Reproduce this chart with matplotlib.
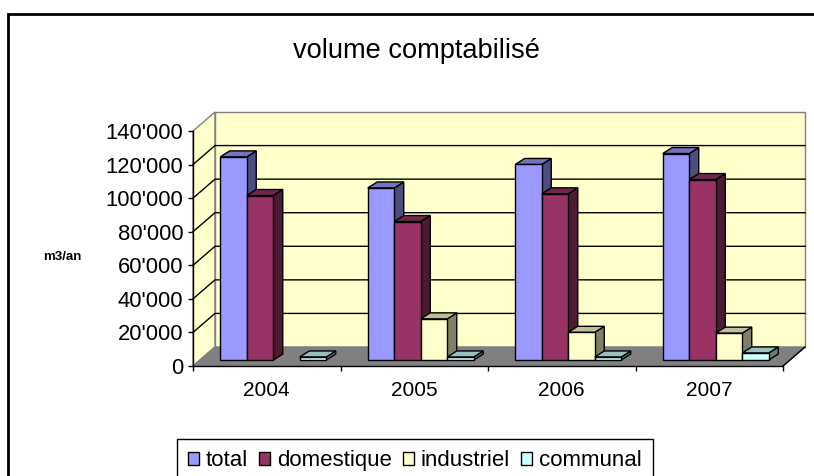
import matplotlib
matplotlib.use("Agg")
import matplotlib.pyplot as plt
from matplotlib.patches import Polygon, Rectangle

# ---- data ----
years = ["2004", "2005", "2006", "2007"]
series_names = ["total", "domestique", "industriel", "communal"]
total = [121000, 102500, 116500, 123000]
domestique = [98000, 82500, 99000, 107500]
industriel = [0, 24500, 16500, 16000]
communal = [1800, 1800, 1800, 4200]
yticks = [0, 20000, 40000, 60000, 80000, 100000, 120000, 140000]

front_colors = ["#9999FF", "#993366", "#FFFFCC", "#CCFFFF"]
top_colors = ["#7373BF", "#73264D", "#BFBF99", "#99BFBF"]
side_colors = ["#4D4D80", "#4D1A33", "#808066", "#668080"]

plt.rcParams['font.family'] = ['Liberation Sans', 'DejaVu Sans']

W, H = 814, 476
fig = plt.figure(figsize=(W / 100, H / 100), dpi=100)

def fy(py):
    return 1 - py / H

ax = fig.add_axes([193 / W, fy(366), 590 / W, 235 / H])
ax.set_xlim(0, len(years))
ax.set_ylim(0, yticks[-1])
ax.patch.set_visible(False)

PX = len(years) / 590.0
PY = yticks[-1] / 235.0

# wall depth
WDX, WDY = 22 * PX, 19 * PY
# bars plane offset, depth, width
BX, BY = 6.5 * PX, 6 * PY
BDX, BDY = 9.5 * PX, 6 * PY
BW = 26.5 * PX

ymax = yticks[-1]
nx = len(years)
wall = "#FFFFCC"
gray = "#808080"

def poly(pts, fc, ec, lw=1.0, z=1):
    ax.add_patch(Polygon(pts, closed=True, facecolor=fc, edgecolor=ec,
                         linewidth=lw, clip_on=False, zorder=z))

# side wall
poly([(0, 0), (0, ymax), (WDX, ymax + WDY), (WDX, WDY)], wall, gray)
# back wall
poly([(WDX, WDY), (nx + WDX, WDY), (nx + WDX, ymax + WDY), (WDX, ymax + WDY)], wall, gray)
# floor
poly([(0, 0), (nx, 0), (nx + WDX, WDY), (WDX, WDY)], gray, gray)
ax.plot([nx, nx + WDX], [0, WDY], color="black", lw=1, clip_on=False, zorder=1.5)

# gridlines
for v in yticks[1:-1]:
    ax.plot([0, WDX, nx + WDX], [v, v + WDY, v + WDY], color="black", lw=1,
            clip_on=False, zorder=1.2)

# bars
data = [total, domestique, industriel, communal]
z = 2
for c in range(nx):
    left = c + 0.5 - 2 * BW + BX
    for i, s in enumerate(data):
        v = s[c]
        if v <= 0:
            continue
        x0 = left + i * BW
        x1 = x0 + BW
        y0 = BY
        y1 = BY + v
        poly([(x1, y0), (x1 + BDX, y0 + BDY), (x1 + BDX, y1 + BDY), (x1, y1)],
             side_colors[i], "black", 1.0, z)
        poly([(x0, y1), (x1, y1), (x1 + BDX, y1 + BDY), (x0 + BDX, y1 + BDY)],
             top_colors[i], "black", 1.0, z)
        poly([(x0, y0), (x1, y0), (x1, y1), (x0, y1)],
             front_colors[i], "black", 1.0, z + 0.1)
        z += 0.2

# axes styling
for sp in ["top", "right"]:
    ax.spines[sp].set_visible(False)
for sp in ["left", "bottom"]:
    ax.spines[sp].set_color("black")
    ax.spines[sp].set_linewidth(1)

ax.set_yticks(yticks)
ax.set_yticklabels([f"{v:,}".replace(",", "'") for v in yticks])
ax.tick_params(axis="y", direction="out", length=3.6, width=1, pad=3.5,
               labelsize=15.8, colors="black")
ax.set_xticks(list(range(nx + 1)))
ax.set_xticklabels([""] * (nx + 1))
ax.set_xticks([c + 0.5 for c in range(nx)], minor=True)
ax.set_xticklabels(years, minor=True)
ax.tick_params(axis="x", which="major", direction="out", length=3.6, width=1)
ax.tick_params(axis="x", which="minor", length=0, pad=10.5, labelsize=15)

# labels
fig.text(62 / W, fy(257), "m3/an", fontsize=9.5, fontweight="bold",
         ha="center", va="center")
fig.text(416.5 / W, fy(58), "volume comptabilisé", fontsize=19.6,
         ha="center", va="baseline")

# legend
handles = [Rectangle((0, 0), 1, 1, facecolor=front_colors[i], edgecolor="black", lw=1)
           for i in range(len(series_names))]
leg = fig.legend(handles, series_names, loc="upper left",
                 bbox_to_anchor=(177 / W, fy(439)), ncol=4, frameon=True,
                 fancybox=False, edgecolor="black", framealpha=1, fontsize=16,
                 handlelength=0.5, handleheight=0.5, handletextpad=0.3,
                 columnspacing=0.5, borderpad=0.5, borderaxespad=0)
leg.get_frame().set_linewidth(1)

# outer chart border
fig.add_artist(Rectangle((8 / W, -0.1), 1.2, fy(14) + 0.1, transform=fig.transFigure,
                         fill=False, lw=2, edgecolor="black"))

fig.savefig("out.png", dpi=100)
